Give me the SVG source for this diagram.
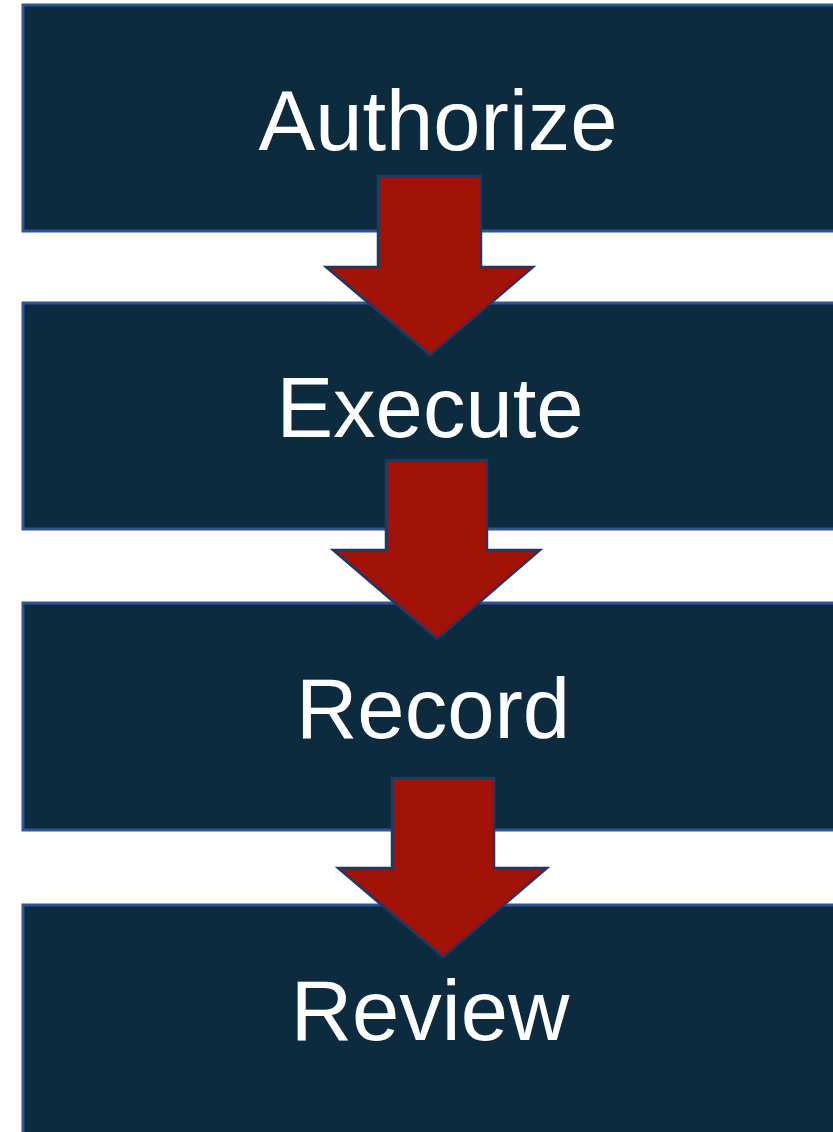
<svg xmlns="http://www.w3.org/2000/svg" width="833" height="1132" viewBox="0 0 833 1132">
<style>
.box{fill:#0c2b3f;stroke:#2f5597;stroke-width:3}
.lbl{fill:#ffffff;font-family:"Liberation Sans",Arial,sans-serif;font-size:85px;text-anchor:middle}
.arr{fill:#a11207;stroke:#1f3864;stroke-width:2.5;stroke-linejoin:miter}
</style>
<rect width="833" height="1132" fill="#ffffff"/>
<g id="node-authorize">
<rect class="box" x="23" y="5" width="840" height="226"/>
<text class="lbl" x="438" y="150">Authorize</text>
</g>
<g id="node-execute">
<rect class="box" x="23" y="303" width="840" height="226"/>
<text class="lbl" x="430" y="437">Execute</text>
</g>
<g id="node-record">
<rect class="box" x="23" y="603" width="840" height="227"/>
<text class="lbl" x="433" y="738">Record</text>
</g>
<g id="node-review">
<rect class="box" x="23" y="905" width="840" height="240"/>
<text class="lbl" x="430" y="1040">Review</text>
</g>
<g id="connectors">
<polygon class="arr" points="378,176 481,176 481,267 533,267 430,355 326,267 378,267"/>
<polygon class="arr" points="386,460 487,460 487,550 540,550 437,639 333,550 386,550"/>
<polygon class="arr" points="392,778 494,778 494,868 547,868 443,957 338,868 392,868"/>
</g>
</svg>
